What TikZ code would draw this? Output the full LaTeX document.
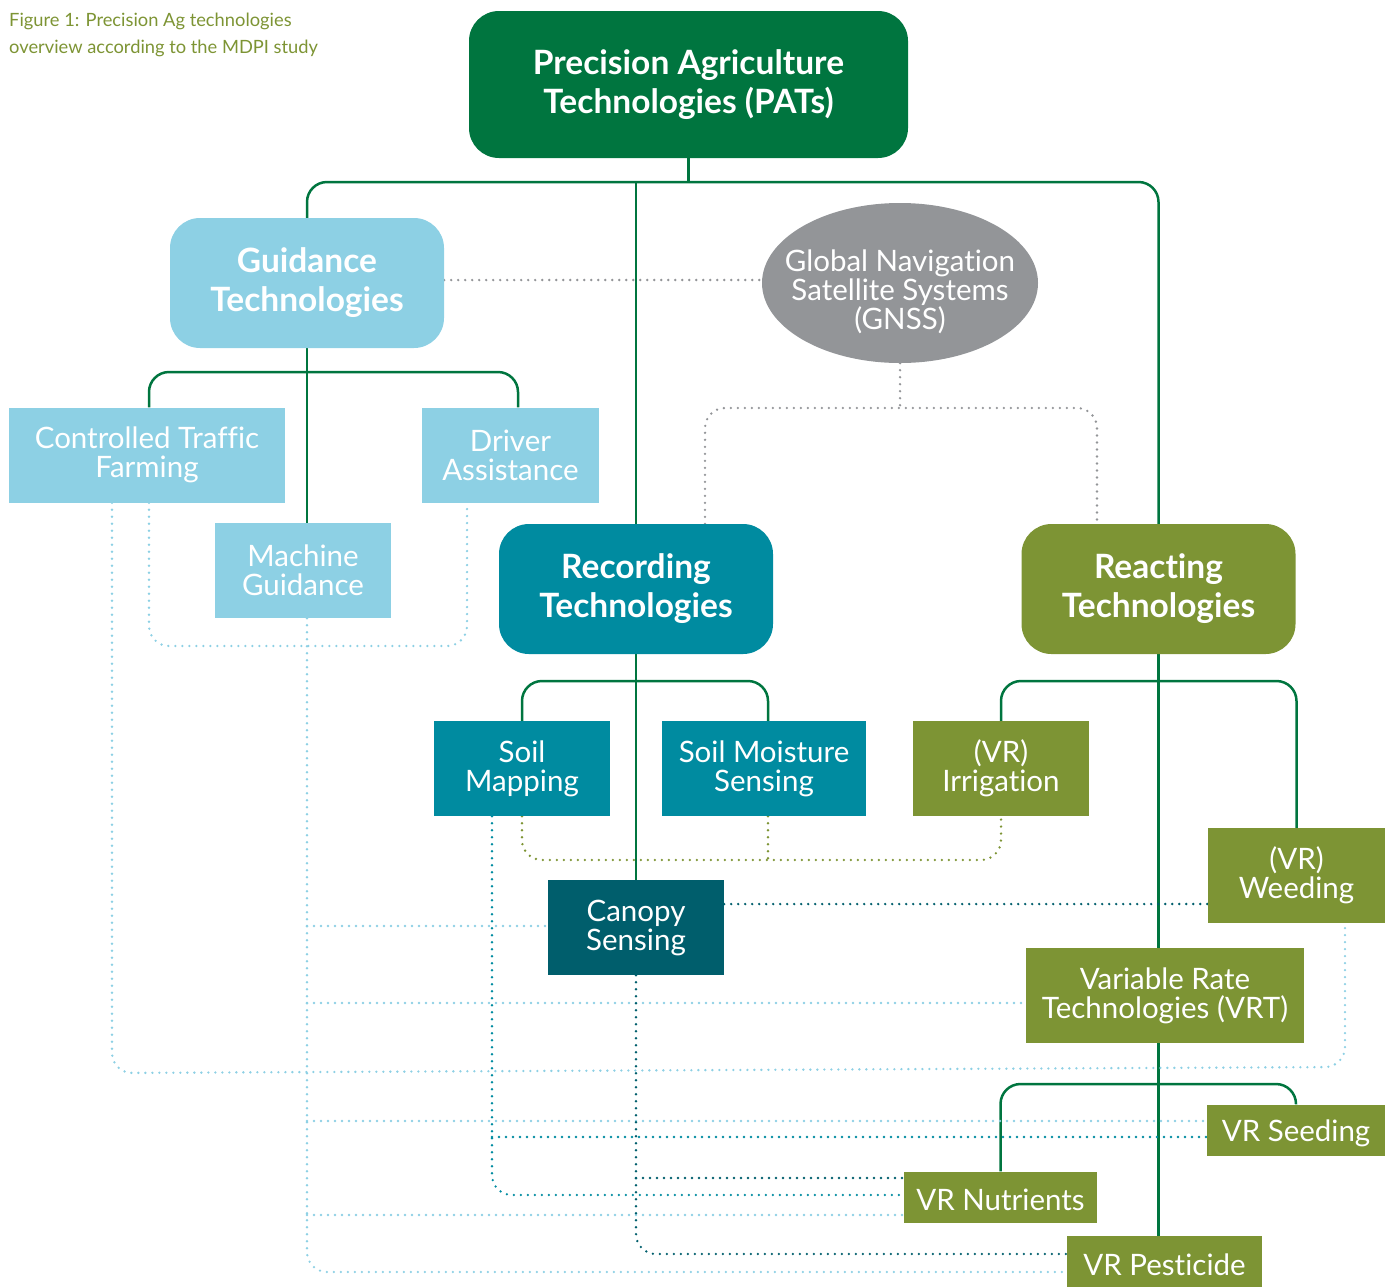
\documentclass[tikz,border=0pt]{standalone}
\usepackage{fontspec}
\setmainfont{Lato}[Ligatures={NoCommon,NoContextual}]
\usetikzlibrary{calc,backgrounds}
\definecolor{patgreen}{RGB}{0,117,63}
\definecolor{lblue}{RGB}{141,208,228}
\definecolor{teal}{RGB}{0,139,160}
\definecolor{dteal}{RGB}{0,94,108}
\definecolor{olive}{RGB}{125,148,52}
\definecolor{ggray}{RGB}{147,149,152}
\begin{document}
\begin{tikzpicture}[x=1pt,y=-1pt,
  bigbox/.style={rectangle, rounded corners=30pt, inner sep=0pt, align=center, text=white,
    minimum width=274pt, minimum height=130pt, font=\fontsize{33.5}{39}\selectfont\bfseries},
  sbox/.style={rectangle, inner sep=0pt, align=center, text=white,
    minimum width=176pt, minimum height=95pt, font=\fontsize{29.5}{29}\selectfont,
    execute at begin node={\rule{0pt}{28pt}}},
  tbox/.style={sbox, minimum height=51pt},
  solidc/.style={draw=patgreen, line width=2.5pt, rounded corners=20pt},
  dotc/.style={line width=2.6pt, line cap=round, dash pattern=on 0pt off 7pt, rounded corners=20pt},
  capt/.style={anchor=base west, inner sep=0pt, text=olive, font=\fontsize{18.3}{27}\selectfont}
]
\useasboundingbox (0,0) rectangle (1391,1286);

% caption
\node[capt] (cap1) at (9,26) {Figure 1: Precision Ag technologies};
\node[capt] (cap2) at (9,53) {overview according to the MDPI study};

% main nodes
\node[bigbox, fill=patgreen, minimum width=439pt, minimum height=147pt] (pat) at (688.5,84.5) {Precision Agriculture\\Technologies (PATs)};
\node[bigbox, fill=lblue] (guid) at (307,283) {Guidance\\Technologies};
\node[rectangle, inner sep=0pt, minimum width=276pt, minimum height=160pt, align=center, text=white,
  font=\fontsize{29.5}{29}\selectfont] (gnss) at (900,283) {\rule{0pt}{40pt}Global Navigation\\Satellite Systems\\(GNSS)};
\node[bigbox, fill=teal] (rec) at (636,589) {Recording\\Technologies};
\node[bigbox, fill=olive] (rea) at (1158.5,589) {Reacting\\Technologies};

\node[sbox, fill=lblue, minimum width=276pt] (ctf) at (147,455) {Controlled Traffic\\Farming};
\node[sbox, fill=lblue, minimum width=177pt] (da) at (510.5,455) {Driver\\Assistance};
\node[sbox, fill=lblue] (mg) at (303,570.5) {Machine\\Guidance};

\node[sbox, fill=teal] (sm) at (522,768.5) {Soil\\Mapping};
\node[sbox, fill=teal, minimum width=204pt] (sms) at (764,768.5) {Soil Moisture\\Sensing};
\node[sbox, fill=olive] (irr) at (1001,768.5) {(VR)\\Irrigation};
\node[sbox, fill=dteal] (can) at (636,927.5) {Canopy\\Sensing};
\node[sbox, fill=olive, minimum width=177pt] (wee) at (1296.5,875.5) {(VR)\\Weeding};
\node[sbox, fill=olive, minimum width=278pt] (vrt) at (1165,995.5) {Variable Rate\\Technologies (VRT)};
\node[tbox, fill=olive, minimum width=178pt] (see) at (1296,1130) {VR Seeding};
\node[tbox, fill=olive, minimum width=193pt] (nut) at (1000.5,1197) {VR Nutrients};
\node[tbox, fill=olive, minimum width=195pt] (pes) at (1164.5,1261.5) {VR Pesticide};

\begin{scope}[on background layer]
% GNSS ellipse shape
\fill[ggray] (gnss.center) ellipse [x radius=138pt, y radius=80pt];

% solid tree connectors
\draw[solidc] (pat.south) -- (pat.south |- 0,182);
\draw[solidc] (guid.north) -- (guid.north |- 0,182) -- (rea.north |- 0,182) -- (rea.north);
\draw[solidc] (rec.north |- 0,182) -- (can.north);
\draw[solidc] (guid.south) -- (guid.south |- mg.north);
\draw[solidc] (ctf.north -| 149,0) -- (149,372) -- (518,372) -- (da.north -| 518,0);
\draw[solidc] (sm.north) -- (sm.north |- 0,681) -- (768,681) -- (sms.north -| 768,0);
\draw[solidc] (rea.south) -- (rea.south |- vrt.north);
\draw[solidc] (irr.north) -- (irr.north |- 0,681) -- (wee.north |- 0,681) -- (wee.north);
\draw[solidc] (vrt.south -| rea.south) -- (pes.north -| rea.south);
\draw[solidc] (nut.north) -- (nut.north |- 0,1084) -- (see.north |- 0,1084) -- (see.north);

% gray dotted
\draw[dotc, draw=ggray] (guid.east |- 0,280) -- (gnss.west |- 0,280);
\draw[dotc, draw=ggray] (gnss.south) -- (gnss.south |- 0,408);
\draw[dotc, draw=ggray] (rec.north -| 705,0) -- (705,408) -- (1097,408) -- (rea.north -| 1097,0);

% light blue dotted
\draw[dotc, draw=lblue] (ctf.south -| 149,0) -- (149,646) -- (467,646) -- (da.south -| 467,0);
\draw[dotc, draw=lblue] (mg.south -| 307,0) -- (307,1272) -- (pes.west |- 0,1272);
\draw[dotc, draw=lblue] (307,926) -- (can.west |- 0,926);
\draw[dotc, draw=lblue] (307,1003) -- (vrt.west |- 0,1003);
\draw[dotc, draw=lblue] (307,1121) -- (see.west |- 0,1121);
\draw[dotc, draw=lblue] (307,1215) -- (nut.west |- 0,1215);
\draw[dotc, draw=lblue] (ctf.south -| 112,0) -- (112,1073) -- (1345,1067) -- (wee.south -| 1345,0);

% teal dotted (soil mapping)
\draw[dotc, draw=teal] (sm.south -| 492,0) -- (492,1195) -- (nut.west |- 0,1195);
\draw[dotc, draw=teal] (492,1137) -- (see.west |- 0,1137);

% olive dotted
\draw[dotc, draw=olive] (sm.south) -- (522,860) -- (1001,860) -- (irr.south);
\draw[dotc, draw=olive] (sms.south -| 768,0) -- (768,860);

% dark teal dotted (canopy)
\draw[dotc, draw=dteal] (can.east |- 0,904) -- (wee.west |- 0,904);
\draw[dotc, draw=dteal] (can.south) -- (636,1254) -- (pes.west |- 0,1254);
\draw[dotc, draw=dteal] (636,1178) -- (nut.west |- 0,1178);
\end{scope}
\end{tikzpicture}
\end{document}
